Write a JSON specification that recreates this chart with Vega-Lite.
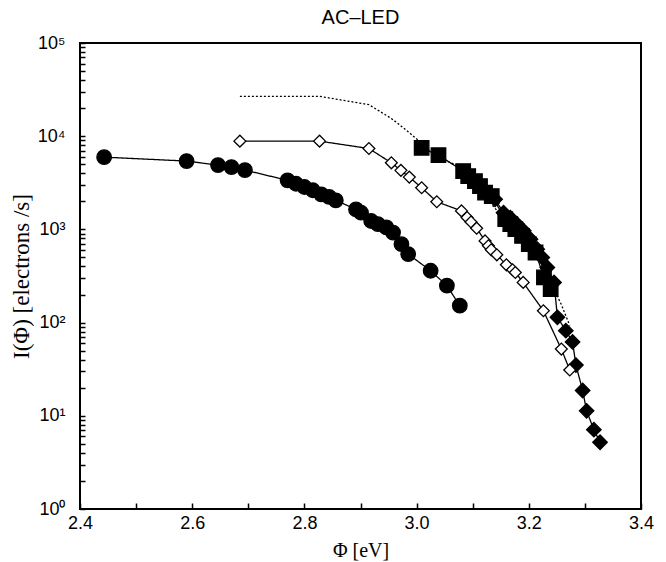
{
  "$schema": "https://vega.github.io/schema/vega-lite/v6.json",
  "width": 561,
  "height": 466,
  "autosize": {"type": "none"},
  "padding": {"left": 80, "top": 43, "right": 25, "bottom": 53},
  "background": "white",
  "title": {"text": "AC–LED", "font": "Liberation Sans", "fontSize": 20, "fontWeight": "normal", "color": "black", "offset": 6},
  "config": {"view": {"stroke": "black", "strokeWidth": 2}},
  "data": {"values": [
    {"series": "a", "x": 2.443, "y": 5960},
    {"series": "a", "x": 2.590, "y": 5410},
    {"series": "a", "x": 2.646, "y": 4900},
    {"series": "a", "x": 2.670, "y": 4660},
    {"series": "a", "x": 2.694, "y": 4330},
    {"series": "a", "x": 2.770, "y": 3360},
    {"series": "a", "x": 2.785, "y": 3090},
    {"series": "a", "x": 2.800, "y": 2850},
    {"series": "a", "x": 2.815, "y": 2630},
    {"series": "a", "x": 2.830, "y": 2380},
    {"series": "a", "x": 2.844, "y": 2230},
    {"series": "a", "x": 2.856, "y": 2050},
    {"series": "a", "x": 2.892, "y": 1640},
    {"series": "a", "x": 2.901, "y": 1510},
    {"series": "a", "x": 2.919, "y": 1230},
    {"series": "a", "x": 2.931, "y": 1140},
    {"series": "a", "x": 2.946, "y": 1050},
    {"series": "a", "x": 2.958, "y": 925},
    {"series": "a", "x": 2.973, "y": 695},
    {"series": "a", "x": 2.985, "y": 543},
    {"series": "a", "x": 3.025, "y": 360},
    {"series": "a", "x": 3.054, "y": 249},
    {"series": "a", "x": 3.077, "y": 152},
    {"series": "b", "x": 3.009, "y": 7500},
    {"series": "b", "x": 3.039, "y": 6260},
    {"series": "b", "x": 3.083, "y": 4230},
    {"series": "b", "x": 3.092, "y": 3730},
    {"series": "b", "x": 3.104, "y": 3300},
    {"series": "b", "x": 3.113, "y": 2920},
    {"series": "b", "x": 3.122, "y": 2480},
    {"series": "b", "x": 3.134, "y": 2280},
    {"series": "b", "x": 3.158, "y": 1290},
    {"series": "b", "x": 3.167, "y": 1140},
    {"series": "b", "x": 3.176, "y": 1005},
    {"series": "b", "x": 3.188, "y": 851},
    {"series": "b", "x": 3.200, "y": 695},
    {"series": "b", "x": 3.212, "y": 565},
    {"series": "b", "x": 3.227, "y": 305},
    {"series": "b", "x": 3.239, "y": 229},
    {"series": "c", "x": 3.086, "y": 4050},
    {"series": "c", "x": 3.098, "y": 3440},
    {"series": "c", "x": 3.110, "y": 2920},
    {"series": "c", "x": 3.122, "y": 2480},
    {"series": "c", "x": 3.140, "y": 2100},
    {"series": "c", "x": 3.155, "y": 1510},
    {"series": "c", "x": 3.167, "y": 1340},
    {"series": "c", "x": 3.179, "y": 1140},
    {"series": "c", "x": 3.191, "y": 965},
    {"series": "c", "x": 3.203, "y": 786},
    {"series": "c", "x": 3.215, "y": 614},
    {"series": "c", "x": 3.224, "y": 499},
    {"series": "c", "x": 3.233, "y": 390},
    {"series": "c", "x": 3.245, "y": 270},
    {"series": "c", "x": 3.251, "y": 114},
    {"series": "c", "x": 3.266, "y": 82},
    {"series": "c", "x": 3.278, "y": 62},
    {"series": "c", "x": 3.284, "y": 35},
    {"series": "c", "x": 3.296, "y": 18.7},
    {"series": "c", "x": 3.303, "y": 11.3},
    {"series": "c", "x": 3.316, "y": 7.1},
    {"series": "c", "x": 3.327, "y": 5.2},
    {"series": "d", "x": 2.685, "y": 8850},
    {"series": "d", "x": 2.827, "y": 8850},
    {"series": "d", "x": 2.915, "y": 7380},
    {"series": "d", "x": 2.955, "y": 5180},
    {"series": "d", "x": 2.972, "y": 4300},
    {"series": "d", "x": 2.987, "y": 3640},
    {"series": "d", "x": 3.009, "y": 2800},
    {"series": "d", "x": 3.036, "y": 1980},
    {"series": "d", "x": 3.080, "y": 1580},
    {"series": "d", "x": 3.090, "y": 1340},
    {"series": "d", "x": 3.097, "y": 1200},
    {"series": "d", "x": 3.107, "y": 1030},
    {"series": "d", "x": 3.122, "y": 753},
    {"series": "d", "x": 3.128, "y": 667},
    {"series": "d", "x": 3.133, "y": 604},
    {"series": "d", "x": 3.143, "y": 534},
    {"series": "d", "x": 3.160, "y": 417},
    {"series": "d", "x": 3.171, "y": 369},
    {"series": "d", "x": 3.176, "y": 345},
    {"series": "d", "x": 3.190, "y": 270},
    {"series": "d", "x": 3.226, "y": 134},
    {"series": "d", "x": 3.258, "y": 52},
    {"series": "d", "x": 3.273, "y": 31},
    {"series": "e", "x": 2.685, "y": 26800},
    {"series": "e", "x": 2.827, "y": 26800},
    {"series": "e", "x": 2.915, "y": 21800},
    {"series": "e", "x": 2.955, "y": 15500},
    {"series": "e", "x": 2.972, "y": 12900},
    {"series": "e", "x": 2.987, "y": 10900},
    {"series": "e", "x": 3.009, "y": 8400},
    {"series": "e", "x": 3.036, "y": 5900},
    {"series": "e", "x": 3.080, "y": 4700},
    {"series": "e", "x": 3.090, "y": 4000},
    {"series": "e", "x": 3.107, "y": 3100},
    {"series": "e", "x": 3.122, "y": 2260},
    {"series": "e", "x": 3.143, "y": 1600},
    {"series": "e", "x": 3.160, "y": 1250},
    {"series": "e", "x": 3.176, "y": 1040},
    {"series": "e", "x": 3.190, "y": 810},
    {"series": "e", "x": 3.226, "y": 400},
    {"series": "e", "x": 3.258, "y": 156},
    {"series": "e", "x": 3.273, "y": 93}
  ]},
  "encoding": {
    "x": {"field": "x", "type": "quantitative",
      "scale": {"domain": [2.4, 3.4], "nice": false, "zero": false},
      "axis": {
        "values": [2.4, 2.5, 2.6, 2.7, 2.8, 2.9, 3.0, 3.1, 3.2, 3.3, 3.4],
        "labelExpr": "round(datum.value*10) % 2 == 0 ? format(datum.value, '.1f') : ''",
        "title": "Φ [eV]", "titleFont": "Liberation Serif", "titleFontSize": 20, "titleFontWeight": "normal", "titleColor": "black", "titlePadding": 8,
        "labelFont": "Liberation Sans", "labelFontSize": 18, "labelColor": "black", "labelPadding": 11, "labelFlush": false, "labelOverlap": false,
        "tickColor": "black", "tickSize": -6, "tickWidth": 1.5, "domain": false, "grid": false
      }},
    "y": {"field": "y", "type": "quantitative",
      "scale": {"type": "log", "domain": [1, 100000], "nice": false},
      "axis": {
        "values": [1,2,3,4,5,6,7,8,9,10,20,30,40,50,60,70,80,90,100,200,300,400,500,600,700,800,900,1000,2000,3000,4000,5000,6000,7000,8000,9000,10000,20000,30000,40000,50000,60000,70000,80000,90000,100000],
        "labelExpr": "datum.value==1?'10⁰':datum.value==10?'10¹':datum.value==100?'10²':datum.value==1000?'10³':datum.value==10000?'10⁴':datum.value==100000?'10⁵':''",
        "title": "I(Φ) [electrons /s]", "titleFont": "Liberation Serif", "titleFontSize": 23, "titleFontWeight": "normal", "titleColor": "black", "titlePadding": 4,
        "labelFont": "Liberation Sans", "labelFontSize": 18, "labelColor": "black", "labelPadding": 20, "labelFlush": false, "labelOverlap": false,
        "tickColor": "black", "tickSize": -5, "tickWidth": 1.5, "domain": false, "grid": false
      }}
  },
  "layer": [
    {
      "mark": {"type": "line", "color": "black", "strokeWidth": 1.3},
      "encoding": {
        "strokeDash": {"field": "series", "type": "nominal",
          "scale": {"domain": ["a", "b", "c", "d", "e"], "range": [[1, 0], [1, 0], [1, 0], [1, 0], [2, 2]]},
          "legend": null}
      }
    },
    {
      "transform": [{"filter": "datum.series != 'e'"}],
      "mark": {"type": "point", "filled": true, "stroke": "black", "strokeWidth": 1.3, "opacity": 1},
      "encoding": {
        "shape": {"field": "series", "type": "nominal",
          "scale": {"domain": ["a", "b", "c", "d", "e"], "range": ["circle", "square", "diamond", "diamond", "circle"]},
          "legend": {
            "orient": "none", "legendX": 70, "legendY": 350, "title": null,
            "labelExpr": "datum.value=='a'?'10 kHz, 20V':datum.value=='b'?'10 kHz, 200V':datum.value=='c'?'10 kHz, 300V':'10 kHz, 300V, other LED'",
            "labelFont": "Liberation Sans", "labelFontSize": 12, "labelColor": "black",
            "symbolSize": 64, "labelOffset": 19, "rowPadding": 3.5,
            "encode": {"symbols": {"update": {
              "shape": {"signal": "datum.value=='a'?'M-5.5,0a1.6,1.6 0 1,0 3.2,0a1.6,1.6 0 1,0 -3.2,0M2.3,0a1.6,1.6 0 1,0 3.2,0a1.6,1.6 0 1,0 -3.2,0M-2.3,0L2.3,0':datum.value=='b'?'M-5.4,-1.5h3v3h-3zM2.4,-1.5h3v3h-3zM-2.4,0L2.4,0':datum.value=='e'?'M-3.6,0L3.6,0':'M-5.65,0l1.75,-1.75l1.75,1.75l-1.75,1.75zM2.15,0l1.75,-1.75l1.75,1.75l-1.75,1.75zM-2.15,0L2.15,0'"},
              "fill": {"signal": "datum.value=='d'?'white':'black'"},
              "stroke": {"value": "black"},
              "strokeWidth": {"value": 1.3},
              "strokeDash": {"signal": "datum.value=='e'?[2,1.5]:[1,0]"},
              "size": {"value": 64},
              "opacity": {"value": 1}
            }}}
          }},
        "fill": {"condition": {"test": "datum.series == 'd'", "value": "white"}, "value": "black"},
        "size": {"condition": {"test": "datum.series == 'd'", "value": 140}, "value": 210}
      }
    }
  ]
}
